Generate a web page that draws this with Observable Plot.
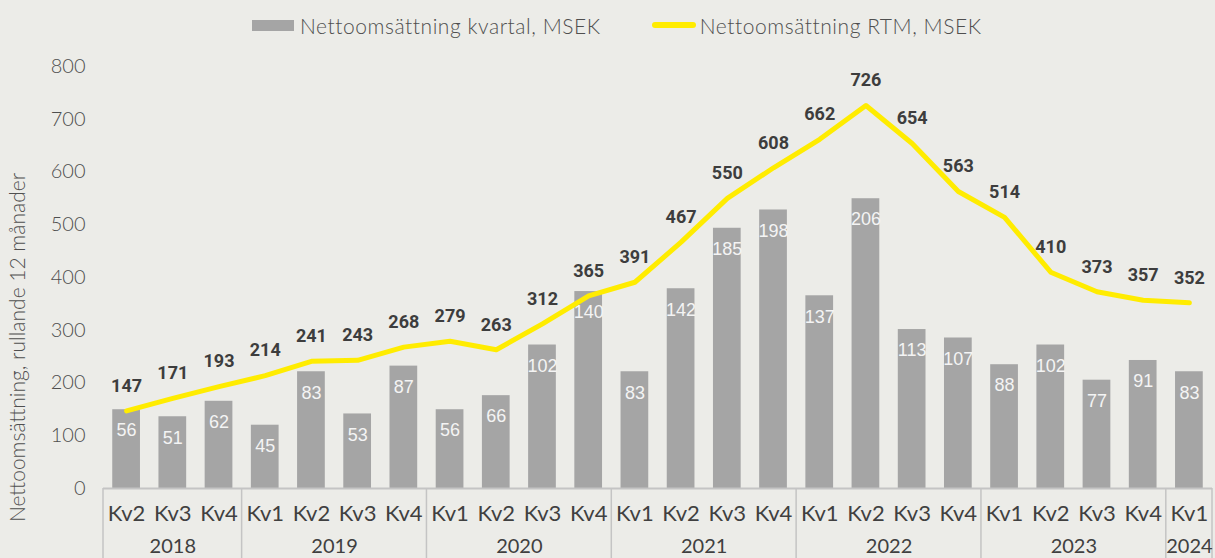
<!DOCTYPE html>
<html><head><meta charset="utf-8">
<script src="https://cdn.jsdelivr.net/npm/d3@7"></script>
<script src="https://cdn.jsdelivr.net/npm/@observablehq/plot@0.6"></script>
<style>
html,body{margin:0;padding:0;background:#ecece8;}
#legend{height:50px;display:flex;align-items:center;font-family:Lato,"Noto Sans",sans-serif;font-weight:300;font-size:21px;letter-spacing:0.55px;color:#4f4f4f;padding-left:252px;box-sizing:border-box;white-space:nowrap;}
#legend .swbar{display:inline-block;width:42px;height:11px;background:#a5a5a5;margin-right:6px;}
#legend .swline{display:inline-block;width:44px;height:6px;border-radius:3px;background:#ffec00;margin-left:51px;margin-right:4px;}
#chart svg{display:block;}
</style></head><body>
<div id="legend"><span class="swbar"></span><span>Nettoomsättning kvartal, MSEK</span><span class="swline"></span><span>Nettoomsättning RTM, MSEK</span></div>
<div id="chart"></div>
<script>
const quarters = ["Kv2","Kv3","Kv4","Kv1","Kv2","Kv3","Kv4","Kv1","Kv2","Kv3","Kv4","Kv1","Kv2","Kv3","Kv4","Kv1","Kv2","Kv3","Kv4","Kv1","Kv2","Kv3","Kv4","Kv1"];
const quarterYears = ["2018","2018","2018","2019","2019","2019","2019","2020","2020","2020","2020","2021","2021","2021","2021","2022","2022","2022","2022","2023","2023","2023","2023","2024"];
const salesQuarter = [56,51,62,45,83,53,87,56,66,102,140,83,142,185,198,137,206,113,107,88,102,77,91,83];
const salesRTM = [147,171,193,214,241,243,268,279,263,312,365,391,467,550,608,662,726,654,563,514,410,373,357,352];
const yTicks = [0,100,200,300,400,500,600,700,800];
const lineAxisMax = 800;
const barAxisMax = 300;
const yLabel = "Nettoomsättning, rullande 12 månader";

const data = quarters.map((kv, i) => ({
  i, kv, year: quarterYears[i], q: salesQuarter[i], rtm: salesRTM[i],
  qScaled: salesQuarter[i] * lineAxisMax / barAxisMax
}));
const groups = d3.groups(data, d => d.year).map(([year, ds]) => ({
  year,
  mid: d3.mean(ds, d => d.i),
  start: d3.min(ds, d => d.i) - 0.5,
  end: d3.max(ds, d => d.i) + 0.5
}));
const bounds = Array.from(new Set(groups.flatMap(g => [g.start, g.end])));
const halfBar = 0.3;
const font = "Lato, 'Noto Sans', sans-serif";

function separators(index, scales, values, dims) {
  const g = d3.create("svg:g");
  const y0 = scales.y(0);
  for (const b of bounds) {
    g.append("line")
      .attr("x1", scales.x(b)).attr("x2", scales.x(b))
      .attr("y1", y0).attr("y2", dims.height)
      .attr("stroke", "#c4c4c4").attr("stroke-width", 1.5);
  }
  return g.node();
}

const chart = Plot.plot({
  width: 1215,
  height: 508,
  marginTop: 16,
  marginBottom: 70,
  marginLeft: 103,
  marginRight: 3,
  style: {background: "#ecece8", overflow: "visible"},
  x: {type: "linear", domain: [-0.5, data.length - 0.5], axis: null},
  y: {domain: [0, lineAxisMax], axis: null},
  marks: [
    Plot.axisY({ticks: yTicks, tickSize: 0, tickPadding: 18, fontSize: 20, fill: "#4f4f4f", label: null,
      fontFamily: font, fontWeight: 300, tickFormat: d => String(d)}),
    Plot.text([yLabel], {frameAnchor: "left", textAnchor: "middle", dx: -85, dy: 70, rotate: -90, text: d => d,
      fontSize: 21, fill: "#4f4f4f", fontFamily: font, fontWeight: 300}),
    Plot.rectY(data, {x1: d => d.i - halfBar, x2: d => d.i + halfBar, y1: () => 0, y2: "qScaled", fill: "#a5a5a5"}),
    Plot.text(data, {x: "i", y: "qScaled", text: d => String(d.q), dy: 21, fill: "#f4f4f4",
      fontSize: 18, fontFamily: "'Liberation Sans', Arial, sans-serif"}),
    Plot.line(data, {x: "i", y: "rtm", stroke: "#ffec00", strokeWidth: 5, strokeLinejoin: "round", strokeLinecap: "round"}),
    Plot.text(data, {x: "i", y: "rtm", text: d => String(d.rtm), dy: -25, fill: "#3d3d3d",
      fontSize: 18, fontWeight: "bold", fontFamily: "Roboto, sans-serif"}),
    Plot.ruleY([0], {stroke: "#c4c4c4", strokeWidth: 2}),
    separators,
    Plot.text(data, {x: "i", y: () => 0, text: "kv", dy: 25, fill: "#404040", fontSize: 22,
      fontFamily: font}),
    Plot.text(groups, {x: "mid", y: () => 0, text: "year", dy: 58, fill: "#404040", fontSize: 20,
      fontFamily: font})
  ]
});
document.getElementById("chart").appendChild(chart);
</script>
</body></html>
